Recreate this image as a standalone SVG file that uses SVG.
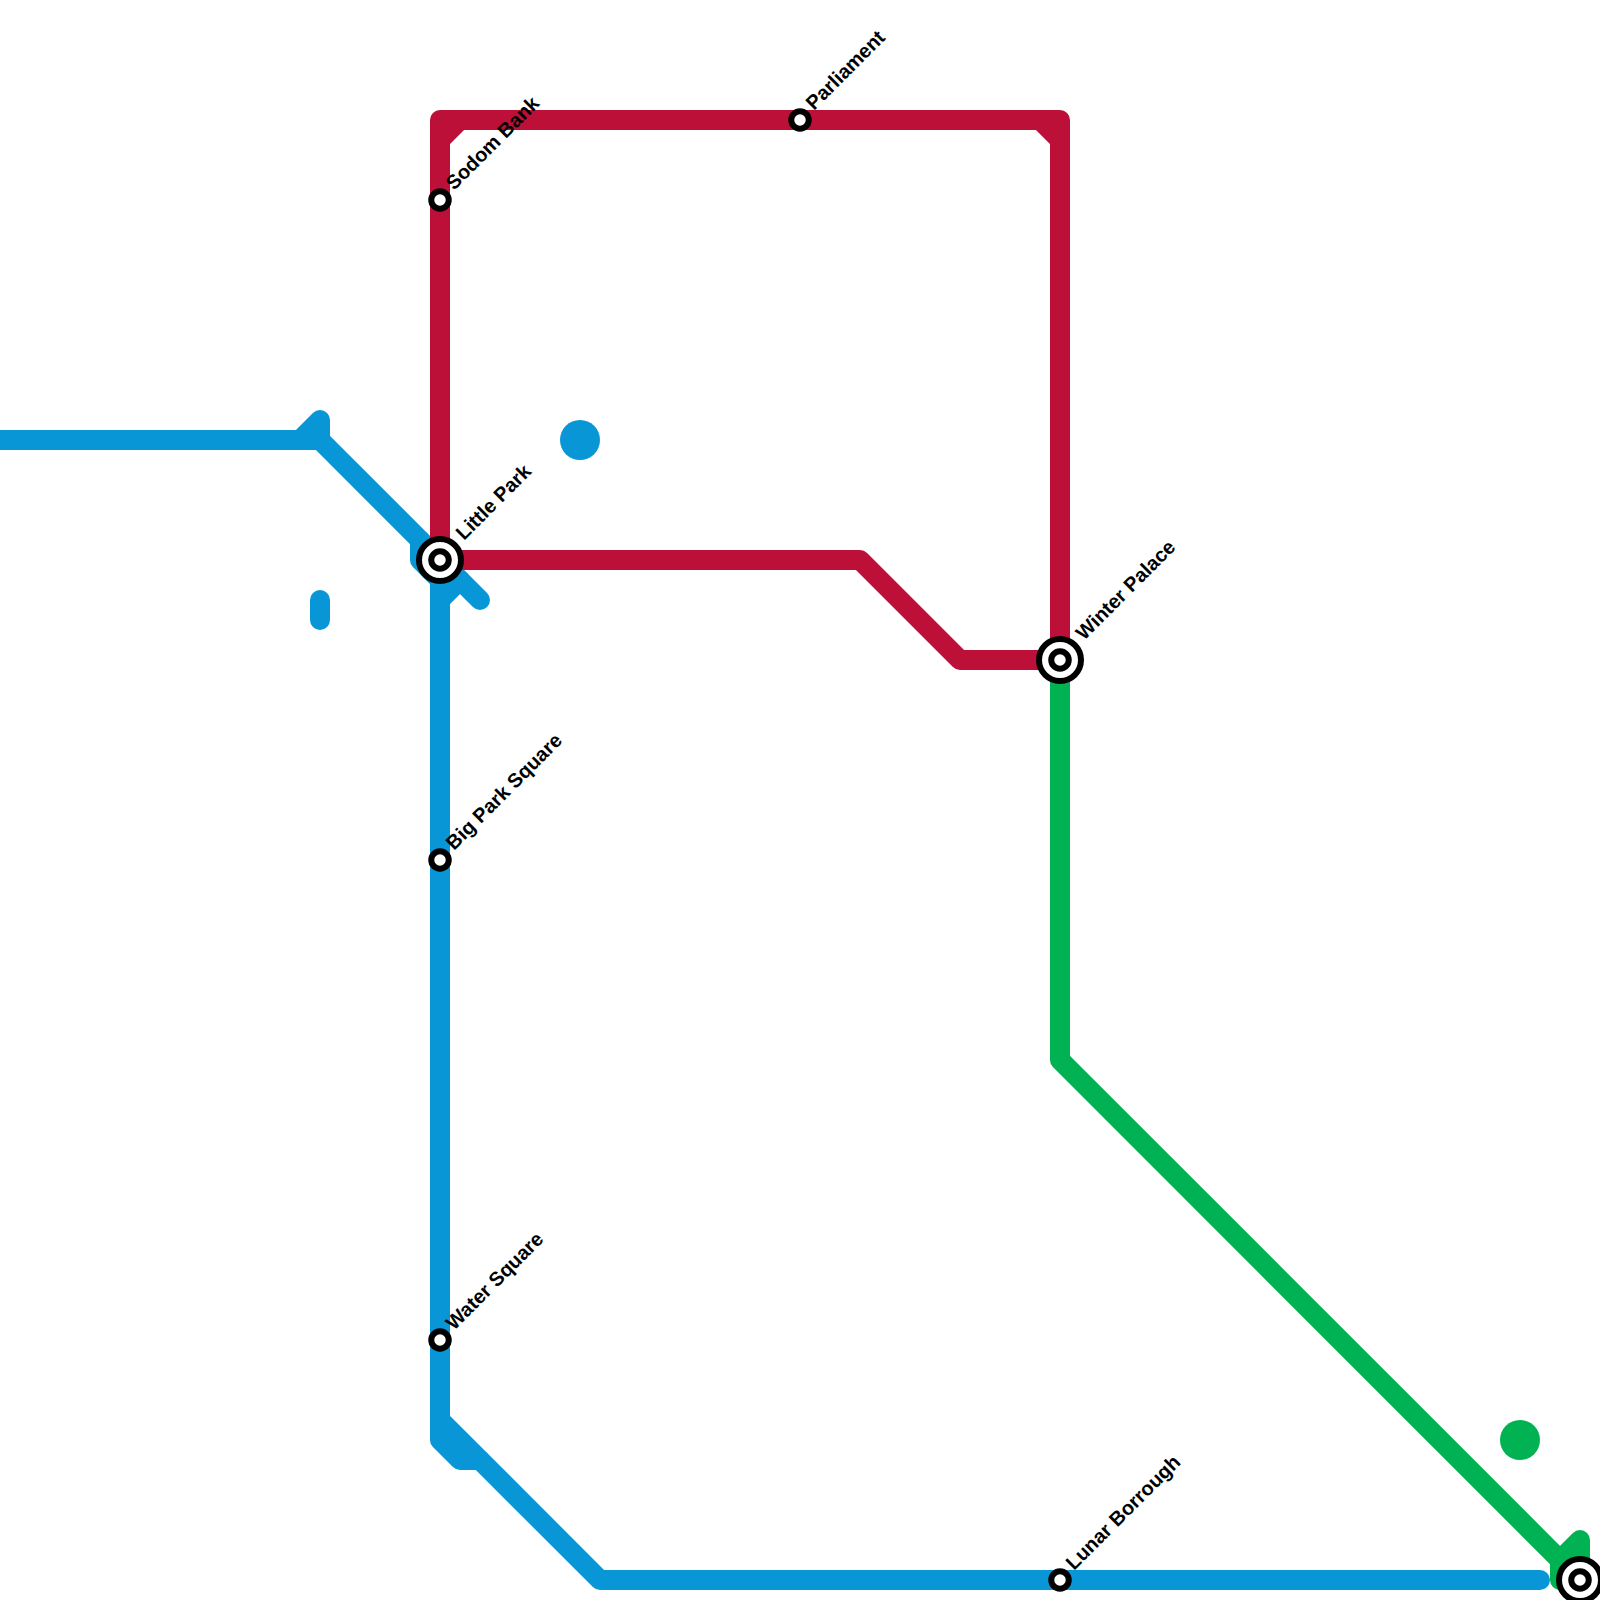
<svg xmlns="http://www.w3.org/2000/svg" width="1600" height="1600" viewBox="0 0 1600 1600">
<style>
.l{fill:none;stroke-width:20;stroke-linecap:round;stroke-linejoin:round}
.b{stroke:#0896d7}.r{stroke:#bd1038}.g{stroke:#00b251}
.s{fill:#fff;stroke:#000;stroke-width:6}
.t{font:bold 20px "Liberation Sans",Arial,sans-serif;fill:#000}
</style>
<rect width="1600" height="1600" fill="#fff"/>
<g id="connectors">
<path class="l b" d="M-20 440H320L480 600"/>
<path class="l b" d="M300 440L320 420V440"/>
<path class="l b" d="M420 540V560L440 580"/>
<path class="l b" d="M440 560V1440L460 1460H480"/>
<path class="l b" d="M440 600L460 580"/>
<path class="l b" d="M320 600V620"/>
<path class="l b" d="M440 1420L600 1580H1540"/>
<path class="l r" d="M440 560V120H1060V660H960L860 560H440"/>
<path class="l r" d="M440 140L460 120M1040 120L1060 140"/>
<path class="l g" d="M1060 660V1060L1580 1580"/>
<path class="l g" d="M1560 1560L1580 1540V1580M1560 1560V1580"/>
</g>
<g id="blob-blue"><circle cx="580" cy="440" r="20" fill="#0896d7"/></g>
<g id="blob-green"><circle cx="1520" cy="1440" r="20" fill="#00b251"/></g>
<g id="sodom-bank"><circle class="s" cx="440" cy="200" r="8.75"/><text class="t" transform="translate(454 191) rotate(-45)">Sodom Bank</text></g>
<g id="parliament"><circle class="s" cx="800" cy="120" r="8.75"/><text class="t" transform="translate(814 111) rotate(-45)">Parliament</text></g>
<g id="little-park"><circle class="s" cx="440" cy="560" r="21"/><circle class="s" cx="440" cy="560" r="8.75"/><text class="t" transform="translate(464 541) rotate(-45)">Little Park</text></g>
<g id="winter-palace"><circle class="s" cx="1060" cy="660" r="21"/><circle class="s" cx="1060" cy="660" r="8.75"/><text class="t" transform="translate(1084 641) rotate(-45)">Winter Palace</text></g>
<g id="big-park-square"><circle class="s" cx="440" cy="860" r="8.75"/><text class="t" transform="translate(454 851) rotate(-45)">Big Park Square</text></g>
<g id="water-square"><circle class="s" cx="440" cy="1340" r="8.75"/><text class="t" transform="translate(454 1331) rotate(-45)">Water Square</text></g>
<g id="lunar-borough"><circle class="s" cx="1060" cy="1580" r="8.75"/><text class="t" transform="translate(1074 1571) rotate(-45)">Lunar Borrough</text></g>
<g id="terminus"><circle class="s" cx="1580" cy="1580" r="21"/><circle class="s" cx="1580" cy="1580" r="8.75"/></g>
</svg>
